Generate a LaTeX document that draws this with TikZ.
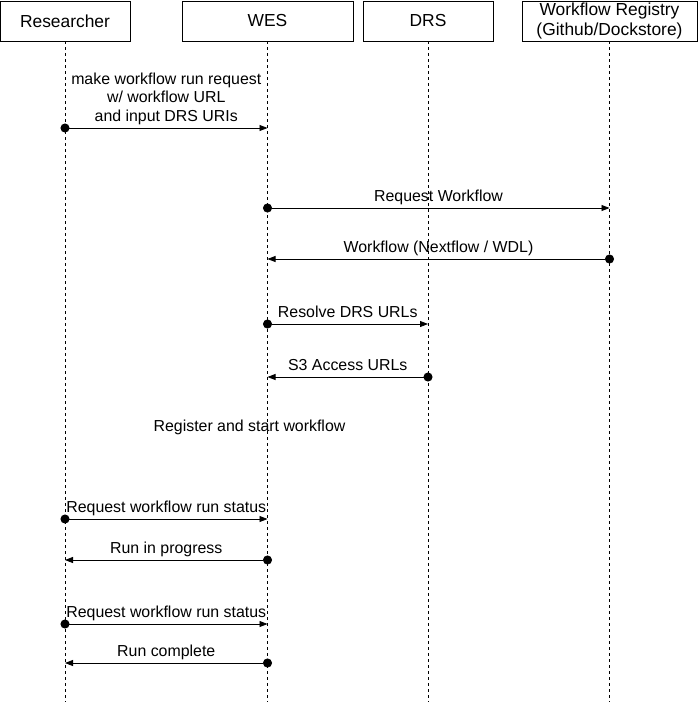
\documentclass[tikz,border=0pt]{standalone}
\usepackage{fontspec}
\setmainfont{Liberation Sans}
\usetikzlibrary{arrows.meta}

\tikzset{
  actor/.style={draw, fill=white, line width=0.8pt, minimum height=40pt, inner sep=0pt, align=center, font=\fontsize{17.4}{20}\selectfont},
  lifeline/.style={line width=0.8pt, dash pattern=on 3pt off 3pt},
  msg/.style={line width=0.8pt, shorten <=-4.5pt, {Circle[length=9pt]}-{Triangle[length=8pt,width=6pt]}},
  lbl/.style={font=\fontsize{15.9}{18.4}\selectfont, align=center, inner sep=0pt, text depth=0pt, anchor=south, yshift=6.5pt},
  note/.style={font=\fontsize{15.9}{18.4}\selectfont, inner sep=0pt, anchor=base}
}

\begin{document}
\begin{tikzpicture}[x=1pt, y=-1pt]

\useasboundingbox (0,0) rectangle (698,702);

% participants
\node [actor, minimum width=130pt] (res) at (65,21) {Researcher};
\node [actor, minimum width=171pt] (wes) at (267.5,21) {WES};
\node [actor, minimum width=130pt] (drs) at (428,21) {DRS};
\node [actor, minimum width=175pt] (reg) at (609.5,21) {Workflow Registry\\(Github/Dockstore)};

\coordinate (bottom) at (0,702);
\foreach \a in {res,wes,drs,reg}
  \draw [lifeline] (\a.south) -- (\a.south |- bottom);

% message rows
\coordinate (m1) at (0,128);
\coordinate (m2) at (0,208);
\coordinate (m3) at (0,259);
\coordinate (m4) at (0,324);
\coordinate (m5) at (0,377);
\coordinate (m6) at (0,519);
\coordinate (m7) at (0,560);
\coordinate (m8) at (0,624);
\coordinate (m9) at (0,663);

\draw [msg] (res |- m1) -- (wes |- m1) node [lbl, midway] {make workflow run request\\w/ workflow URL\\and input DRS URIs};

\draw [msg] (wes |- m2) -- (reg |- m2) node [lbl, midway] {Request Workflow};
\draw [msg] (reg |- m3) -- (wes |- m3) node [lbl, midway] {Workflow (Nextflow / WDL)};

\draw [msg] (wes |- m4) -- (drs |- m4) node [lbl, midway] {Resolve DRS URLs};
\draw [msg] (drs |- m5) -- (wes |- m5) node [lbl, midway] {S3 Access URLs};

\node [note] (regstart) at (249.5,431) {Register and start workflow};

\draw [msg] (res |- m6) -- (wes |- m6) node [lbl, midway] {Request workflow run status};
\draw [msg] (wes |- m7) -- (res |- m7) node [lbl, midway] {Run in progress};

\draw [msg] (res |- m8) -- (wes |- m8) node [lbl, midway] {Request workflow run status};
\draw [msg] (wes |- m9) -- (res |- m9) node [lbl, midway] {Run complete};

\end{tikzpicture}
\end{document}
